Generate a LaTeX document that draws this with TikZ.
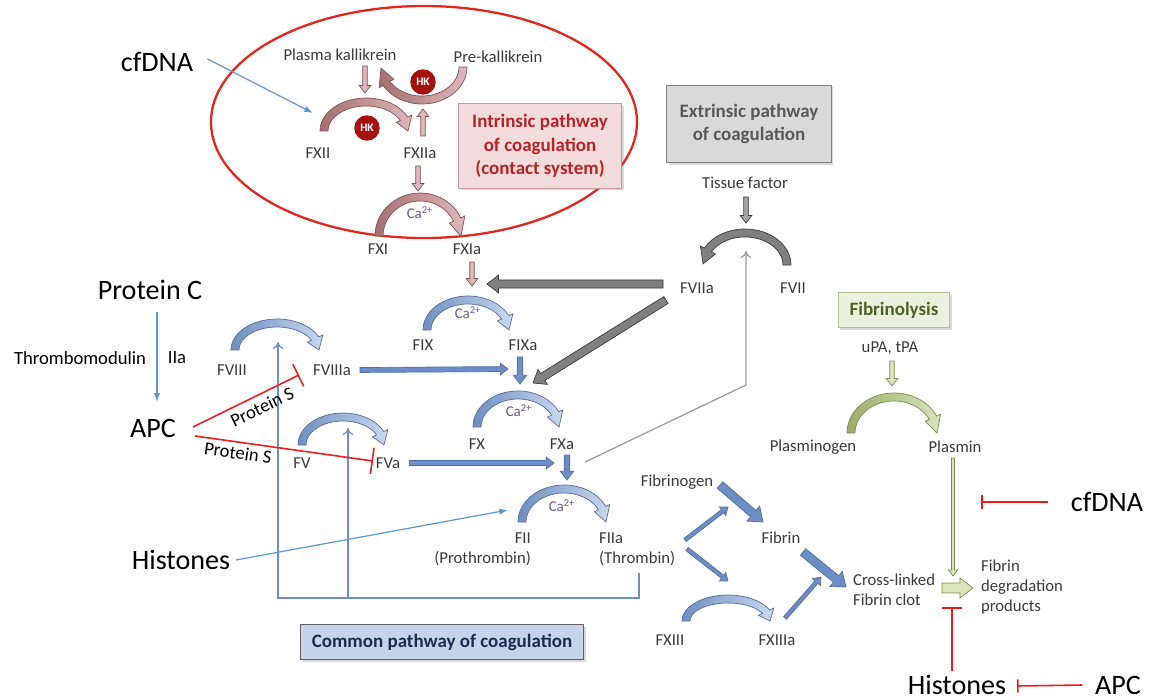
\documentclass[tikz,border=0pt]{standalone}
\usepackage{fontspec}
\setmainfont{Carlito}
\usetikzlibrary{positioning, calc, arrows.meta, shadows}

\definecolor{txt}{HTML}{3A3A3A}
\definecolor{ellred}{HTML}{E3261C}
\definecolor{inhib}{HTML}{EE1D1D}
\definecolor{kaldark}{HTML}{A56F6F}
\definecolor{kallight}{HTML}{DDB9B9}
\definecolor{kaledge}{HTML}{86504F}
\definecolor{hkred}{HTML}{A5130E}
\definecolor{intred}{HTML}{B3252B}
\definecolor{intfill}{HTML}{F2DCDB}
\definecolor{intedge}{HTML}{C59A9A}
\definecolor{bluedark}{HTML}{6F8FC0}
\definecolor{bluelight}{HTML}{C9D8EE}
\definecolor{blueedge}{HTML}{50709F}
\definecolor{bluefill}{HTML}{6C8DC6}
\definecolor{thinblue}{HTML}{5B9BD5}
\definecolor{bracketblue}{HTML}{6C8FCA}
\definecolor{greyfill}{HTML}{808080}
\definecolor{greyedge}{HTML}{3C3C3C}
\definecolor{greyline}{HTML}{9A9A9A}
\definecolor{extfill}{HTML}{D9D9D9}
\definecolor{exttext}{HTML}{595959}
\definecolor{greendark}{HTML}{9BAD69}
\definecolor{greenlight}{HTML}{D8E4BC}
\definecolor{greenedge}{HTML}{7D8E4C}
\definecolor{fibfill}{HTML}{EBF1DE}
\definecolor{fibedge}{HTML}{B2C290}
\definecolor{fibtext}{HTML}{4F6228}
\definecolor{comfill}{HTML}{C5D4EA}
\definecolor{comtext}{HTML}{1C2E4E}
\definecolor{caviolet}{HTML}{6A5A92}

% curved block arrow: centre x, centre y, x radius, y radius, start, end, tip angle
\newcommand{\bendarrow}[8][]{%
  \path[#1] (#2,#3) ++(#6:{#4+4} and {#5+4})
    arc[start angle=#6, end angle=#7, x radius=#4+4, y radius=#5+4]
    -- ([shift={(#7:{#4+8.5} and {#5+8.5})}]#2,#3)
    -- ([shift={(#8:{#4} and {#5})}]#2,#3)
    -- ([shift={(#7:{#4-8.5} and {#5-8.5})}]#2,#3)
    -- ([shift={(#7:{#4-4} and {#5-4})}]#2,#3)
    arc[start angle=#7, end angle=#6, x radius=#4-4, y radius=#5-4] -- cycle;}

% straight block arrow: from, to, half shaft, half head
\newcommand{\fatarrow}[5][]{%
  \path[#1] let \p1=(#2), \p2=(#3),
      \n1={atan2(\y2-\y1,\x2-\x1)},
      \n2={veclen(\x2-\x1,\y2-\y1)-1.3*#5} in
    (\p1) ++(\n1+90:#4) -- ++(\n1:\n2) -- ++(\n1+90:#5-#4) -- (\p2)
    -- ($(\p2)+(\n1+180:1.3*#5)+(\n1-90:#5)$) -- ++(\n1+90:#5-#4)
    -- ++(\n1+180:\n2) -- cycle;}

\begin{document}
\begin{tikzpicture}[x=0.02cm, y=-0.02cm,
    lbl/.style={font=\fontsize{9.5}{11.3}\selectfont, text=txt, inner sep=1pt},
    big/.style={font=\fontsize{16}{19}\selectfont, inner sep=1pt},
    mid/.style={font=\fontsize{10.6}{12.5}\selectfont, inner sep=1pt},
    ca/.style={font=\fontsize{8.5}{10}\selectfont, text=caviolet, inner sep=0pt},
    hk/.style={circle, fill=hkred, text=white, inner sep=0pt, minimum size=14.5pt,
      font=\bfseries\fontsize{6.5}{7}\selectfont},
    pathbox/.style={draw, line width=0.6pt, align=center, inner sep=0pt,
      font=\bfseries\fontsize{10.8}{13.2}\selectfont,
      drop shadow={opacity=0.3, shadow xshift=1.2pt, shadow yshift=-1.2pt}},
    brownarc/.style={draw=kaledge, line width=0.4pt, left color=kaldark, right color=kallight},
    bluearc/.style={draw=blueedge, line width=0.4pt, left color=bluedark, right color=bluelight},
    greyarc/.style={draw=greyedge, line width=0.4pt, fill=greyfill},
    greenarc/.style={draw=greenedge, line width=0.4pt, left color=greendark, right color=greenlight},
    brownfat/.style={draw=kaledge, line width=0.4pt, fill=kallight},
    bluefat/.style={draw=blueedge, line width=0.4pt, fill=bluefill},
    greyfat/.style={draw=greyedge, line width=0.4pt, fill=greyfill},
    greenfat/.style={draw=greenedge, line width=0.4pt, fill=greenlight},
    thinarrow/.style={draw=thinblue, line width=0.7pt, -{Latex[length=5pt, width=3.6pt]}},
    bracket/.style={draw=bracketblue, line width=0.7pt},
    inhibit/.style={draw=inhib, line width=0.9pt}]
\useasboundingbox (0,0) rectangle (1157,700);

% intrinsic pathway
\draw[ellred, line width=1.3pt] (424,122) ellipse [x radius=213, y radius=116];
\node[lbl] (pk) at (340,55) {Plasma kallikrein};
\node[lbl] (prek) at (498,57) {Pre-kallikrein};
\bendarrow[brownarc]{422}{67}{41}{33}{0}{150}{178}
\node[hk] (hka) at (423,82) {HK};
\coordinate (pkdown1) at (365,66);
\coordinate (pkdown2) at (365,93);
\fatarrow[brownfat]{pkdown1}{pkdown2}{1.3pt}{3.3pt}
\bendarrow[brownarc]{366}{131}{42}{29}{180}{335}{360}
\node[hk] (hkb) at (367,128) {HK};
\node[lbl] (fxii) at (318,153) {FXII};
\node[lbl] (fxiia) at (420,153) {FXIIa};
\coordinate (fxiiaup1) at (423,136);
\coordinate (fxiiaup2) at (423,109);
\fatarrow[brownfat]{fxiiaup1}{fxiiaup2}{1.3pt}{3.3pt}
\coordinate (fxiiadn1) at (418,166);
\coordinate (fxiiadn2) at (418,191);
\fatarrow[brownfat]{fxiiadn1}{fxiiadn2}{1.3pt}{3.3pt}
\bendarrow[brownarc]{420}{236}{41}{39}{180}{335}{360}
\node[ca] (ca1) at (420,213) {Ca\textsuperscript{2+}};
\node[lbl] (fxi) at (378,249) {FXI};
\node[lbl] (fxia) at (467,249) {FXIa};
\node[pathbox, draw=intedge, fill=intfill, text=intred, minimum width=93pt, minimum height=48pt]
  (intbox) at (540,146) {Intrinsic pathway\\of coagulation\\(contact system)};

% extrinsic pathway
\node[pathbox, draw=greyfill, fill=extfill, text=exttext, minimum width=93.5pt, minimum height=44pt]
  (extbox) at (749,124) {Extrinsic pathway\\of coagulation};
\node[lbl] (tf) at (745,183) {Tissue factor};
\coordinate (tfdn1) at (746,197);
\coordinate (tfdn2) at (746,223);
\fatarrow[greyfat, fill=greyfill!70]{tfdn1}{tfdn2}{1.3pt}{3.3pt}
\bendarrow[greyarc]{745}{265}{42}{32}{360}{208}{182}
\node[lbl] (fviia) at (697,288) {FVIIa};
\node[lbl] (fvii) at (793,288) {FVII};
\coordinate (fviiaw1) at (663,284);
\coordinate (fviiaw2) at (487,284);
\fatarrow[greyfat]{fviiaw1}{fviiaw2}{2.3pt}{5pt}
\coordinate (fviiasw1) at (666,300);
\coordinate (fviiasw2) at (533,383);
\fatarrow[greyfat]{fviiasw1}{fviiasw2}{2.3pt}{5pt}

% common pathway
\coordinate (fxiadn1) at (472,262);
\coordinate (fxiadn2) at (472,286);
\fatarrow[brownfat]{fxiadn1}{fxiadn2}{1.3pt}{3.3pt}
\bendarrow[bluearc]{468}{330}{41}{30}{180}{335}{360}
\node[ca] (ca2) at (468,313) {Ca\textsuperscript{2+}};
\node[lbl] (fix) at (423,345) {FIX};
\node[lbl] (fixa) at (523,345) {FIXa};
\coordinate (fixadn1) at (520,357);
\coordinate (fixadn2) at (520,384);
\fatarrow[bluefat]{fixadn1}{fixadn2}{1.6pt}{3.8pt}
\bendarrow[bluearc]{277}{350}{42}{27}{180}{335}{360}
\node[lbl] (fviii) at (232,370) {FVIII};
\node[lbl] (fviiia) at (332,370) {FVIIIa};
\coordinate (fviiiae) at (508,369);
\fatarrow[bluefat]{[xshift=4pt]fviiia.east}{fviiiae}{1.4pt}{3.4pt}
\bendarrow[bluearc]{518}{427}{41}{32}{180}{335}{360}
\node[ca] (ca3) at (519,411) {Ca\textsuperscript{2+}};
\node[lbl] (fx) at (477,444) {FX};
\node[lbl] (fxa) at (562,444) {FXa};
\coordinate (fxadn1) at (567,455);
\coordinate (fxadn2) at (567,480);
\fatarrow[bluefat]{fxadn1}{fxadn2}{1.6pt}{3.8pt}
\bendarrow[bluearc]{343}{445}{41}{28}{180}{335}{360}
\node[lbl] (fv) at (302,463) {FV};
\node[lbl] (fva) at (388,463) {FVa};
\coordinate (fvae) at (554,463);
\fatarrow[bluefat]{[xshift=4pt]fva.east}{fvae}{1.4pt}{3.4pt}
\bendarrow[bluearc]{564}{522}{42}{33}{180}{335}{360}
\node[ca] (ca4) at (562,506) {Ca\textsuperscript{2+}};
\node[lbl, align=right, anchor=east] (fii) at (533,549) {FII\\(Prothrombin)};
\node[lbl, align=left, anchor=west] (fiia) at (597,549) {FIIa\\(Thrombin)};
\coordinate (brk1) at (639,573);
\coordinate (brk2) at (278,598);
\coordinate (brk3) at (348,598);
\coordinate (fviiiup) at (278,342);
\coordinate (fvup) at (348,428);
\draw[bracket, -{To[length=4pt, width=6pt]}] (brk1) |- (brk2) -- (fviiiup);
\draw[bracket, -{To[length=4pt, width=6pt]}] (brk3) -- (fvup);
\coordinate (fxagrey) at (585,462);
\coordinate (greybend) at (746,385);
\coordinate (fviiarc) at (746,251);
\draw[greyline, line width=0.7pt, -{To[length=4pt, width=6pt]}] (fxagrey) -- (greybend) -- (fviiarc);
\node[pathbox, draw=greyedge!80, fill=comfill, text=comtext, minimum width=161pt, minimum height=20pt]
  (combox) at (442,642) {Common pathway of coagulation};

% fibrin formation
\node[lbl] (fbg) at (677,482) {Fibrinogen};
\node[lbl] (fbn) at (781,538) {Fibrin};
\coordinate (fbgse1) at (720,485);
\coordinate (fbgse2) at (763,522);
\fatarrow[bluefat]{fbgse1}{fbgse2}{2.4pt}{5.6pt}
\coordinate (fiiane1) at (685,540);
\coordinate (fiiane2) at (728,507);
\fatarrow[bluefat]{fiiane1}{fiiane2}{1.1pt}{3pt}
\coordinate (fiiase1) at (687,549);
\coordinate (fiiase2) at (728,581);
\fatarrow[bluefat]{fiiase1}{fiiase2}{1.1pt}{3pt}
\bendarrow[bluearc]{728}{621}{42}{22}{180}{335}{360}
\node[lbl] (fxiii) at (670,640) {FXIII};
\node[lbl] (fxiiia) at (777,640) {FXIIIa};
\coordinate (fxiiiane1) at (785,618);
\coordinate (fxiiiane2) at (821,577);
\fatarrow[bluefat]{fxiiiane1}{fxiiiane2}{1.1pt}{3pt}
\coordinate (fbnse1) at (803,552);
\coordinate (fbnse2) at (846,587);
\fatarrow[bluefat]{fbnse1}{fbnse2}{2.4pt}{5.6pt}
\node[lbl, align=left, anchor=west] (clot) at (851,590) {Cross-linked\\Fibrin clot};

% fibrinolysis
\node[pathbox, draw=fibedge, fill=fibfill, text=fibtext, minimum width=63.5pt, minimum height=20pt]
  (fibbox) at (894,310) {Fibrinolysis};
\node[lbl] (upa) at (890,348) {uPA, tPA};
\coordinate (upadn1) at (892,361);
\coordinate (upadn2) at (892,386);
\fatarrow[greenfat]{upadn1}{upadn2}{1.3pt}{3.3pt}
\bendarrow[greenarc]{894}{433}{43}{36}{180}{335}{360}
\node[lbl] (plg) at (813,447) {Plasminogen};
\node[lbl] (pls) at (955,447) {Plasmin};
\coordinate (plsdn1) at (953,458);
\coordinate (plsdn2) at (953,576);
\fatarrow[greenfat]{plsdn1}{plsdn2}{0.9pt}{2.6pt}
\coordinate (lysis1) at (942,588);
\coordinate (lysis2) at (973,588);
\fatarrow[greenfat]{lysis1}{lysis2}{2.8pt}{5.7pt}
\node[lbl, align=left, anchor=west] (fdp) at (979,587) {Fibrin\\degradation\\products};

% modulators
\node[big] (cfdna) at (157,62) {cfDNA};
\coordinate (fxiiin) at (313,113);
\draw[thinarrow] ([xshift=7pt]cfdna.east) ++(0,-3) -- (fxiiin);
\node[big] (protc) at (150,290) {Protein C};
\node[mid] (thrombo) at (80,358) {Thrombomodulin};
\node[mid] (iia) at (177,358) {IIa};
\node[big] (apc) at (153,428) {APC};
\coordinate (pcbot) at (157,312);
\coordinate (apctop) at (157,402);
\draw[thinarrow] (pcbot) -- (apctop);
\coordinate (apcout1) at (193,427);
\coordinate (apcout2) at (195,436);
\coordinate (fviiiabar) at (299,375);
\coordinate (fvabar) at (373,461);
\draw[inhibit, -{Bar[width=14pt]}] (apcout1) -- (fviiiabar);
\draw[inhibit, -{Bar[width=15pt]}] (apcout2) -- (fvabar);
\node[mid, rotate=26] (ps1) at (262,407) {Protein S};
\node[mid, rotate=-8] (ps2) at (238,453) {Protein S};
\node[big] (hist) at (181,560) {Histones};
\coordinate (fiiin) at (508,510);
\draw[thinarrow] ([xshift=2pt]hist.east) -- (fiiin);
\node[big] (cfdnab) at (1107,502) {cfDNA};
\coordinate (plsbar) at (981,502);
\draw[inhibit, -{Bar[width=8.5pt]}] ([xshift=-12pt]cfdnab.west) -- (plsbar);
\node[big] (histb) at (957,685) {Histones};
\node[big] (apcb) at (1118,685) {APC};
\coordinate (lysisbar) at (952,607);
\draw[inhibit, -{Bar[width=11pt]}] ([yshift=1pt]histb.north -| lysisbar) -- (lysisbar);
\coordinate (histbar) at (1017,686);
\draw[inhibit, -{Bar[width=7.5pt]}] ([xshift=-6pt]apcb.west) -- (histbar);
\end{tikzpicture}
\end{document}
